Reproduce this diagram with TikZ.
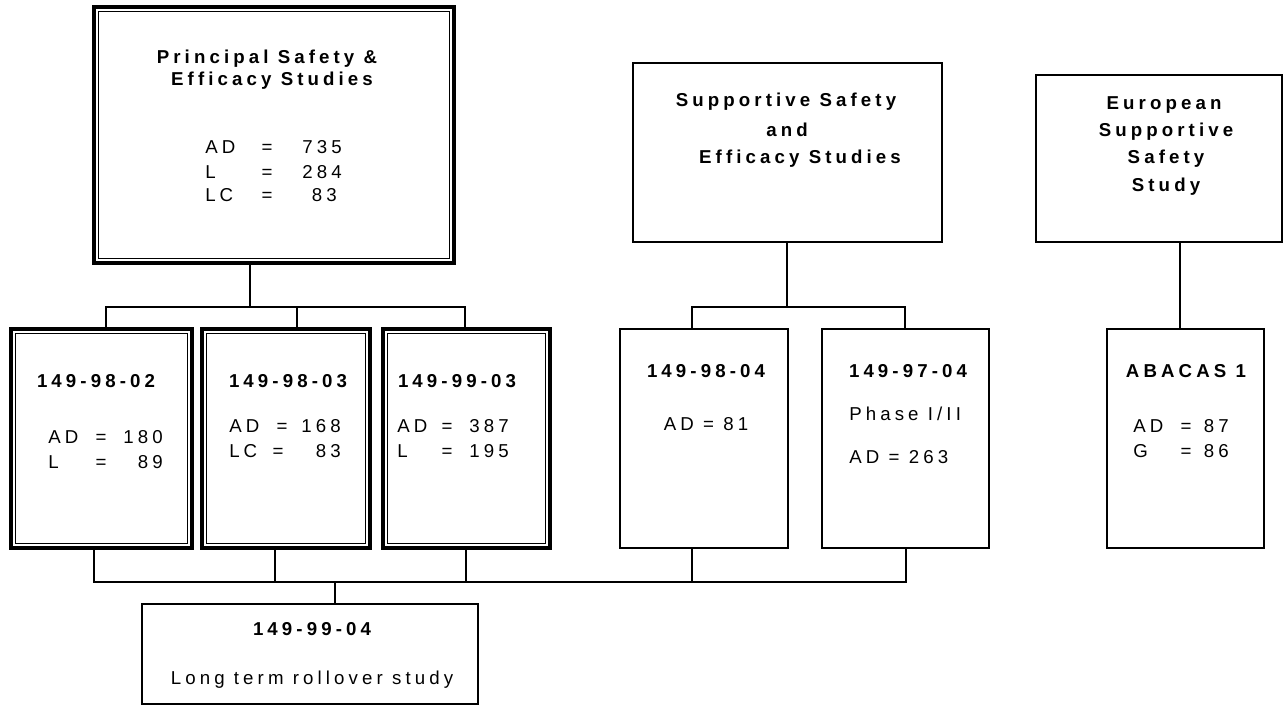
\documentclass[tikz,border=0pt]{standalone}
\usepackage{fontspec}
\newfontfamily\lsp{Liberation Sans}[LetterSpace=22]
\usetikzlibrary{fit}
\begin{document}
\begin{tikzpicture}[x=0.75pt,y=-0.75pt,
 thickbox/.style={draw, line width=2.8pt, inner sep=0pt, outer sep=0pt},
 thinbox/.style={draw, line width=1.2pt, inner sep=0pt, outer sep=0pt},
 innerline/.style={line width=0.8pt},
 conn/.style={line width=1.2pt},
 tb/.style={font=\lsp\bfseries\fontsize{14}{16}\selectfont, inner sep=0pt, anchor=base},
 tr/.style={font=\lsp\fontsize{14}{16}\selectfont, inner sep=0pt, anchor=base},
 trl/.style={tr, anchor=base west},
 trr/.style={tr, anchor=base east},
]
\useasboundingbox (0,0) rectangle (1284,706);
\fill[white] (0,0) rectangle (1284,706);

% boxes
\node[thickbox, fit={(94,7) (454,263)}] (P) {};
\node[thickbox, fit={(11,329) (192,548)}] (B1) {};
\node[thickbox, fit={(202,329) (370,548)}] (B2) {};
\node[thickbox, fit={(383,329) (550,548)}] (B3) {};
\foreach \n in {P,B1,B2,B3}
  \draw[innerline] ([shift={(4.5,4.5)}]\n.north west) rectangle ([shift={(-4.5,-4.5)}]\n.south east);
\node[thinbox, fit={(142,604) (478,704)}] (R) {};
\node[thinbox, fit={(633,63) (942,242)}] (S) {};
\node[thinbox, fit={(1036,75) (1282,242)}] (E) {};
\node[thinbox, fit={(620,329) (788,548)}] (C1) {};
\node[thinbox, fit={(822,329) (989,548)}] (C2) {};
\node[thinbox, fit={(1107,329) (1264,548)}] (A) {};

% junction coordinates
\coordinate (pj) at (250,307);
\coordinate (bL) at (106,307);
\coordinate (bM) at (297,307);
\coordinate (bR) at (465,307);
\coordinate (sj) at (787,307);
\coordinate (sL) at (692,307);
\coordinate (sR) at (905,307);
\coordinate (ea) at (1180,300);
\coordinate (dL) at (94,582);
\coordinate (d2) at (275,582);
\coordinate (d3) at (466,582);
\coordinate (dr) at (335,582);
\coordinate (d4) at (692,582);
\coordinate (dR) at (906,582);

% connectors
\draw[conn] (P.south -| pj) -- (pj);
\draw[conn] (B1.north -| bL) -- (bL) -- (bR) -- (B3.north -| bR);
\draw[conn] (bM) -- (B2.north -| bM);
\draw[conn] (S.south -| sj) -- (sj);
\draw[conn] (C1.north -| sL) -- (sL) -- (sR) -- (C2.north -| sR);
\draw[conn] (E.south -| ea) -- (A.north -| ea);
\draw[conn] (B1.south -| dL) -- (dL) -- (dR) -- (C2.south -| dR);
\draw[conn] (B2.south -| d2) -- (d2);
\draw[conn] (B3.south -| d3) -- (d3);
\draw[conn] (C1.south -| d4) -- (d4);
\draw[conn] (dr) -- (R.north -| dr);

% Principal texts
\node[tb] (pt1) at (267,64) {Principal Safety \&};
\node[tb] (pt2) at (272,86) {Efficacy Studies};
\node[trl] (p1a) at (205,154) {AD}; \node[tr] (p1b) at (267,154) {=}; \node[trr] (p1c) at (342,154) {735};
\node[trl] (p2a) at (205,178) {L};  \node[tr] (p2b) at (267,178) {=}; \node[trr] (p2c) at (342,178) {284};
\node[trl] (p3a) at (205,201) {LC}; \node[tr] (p3b) at (267,201) {=}; \node[trr] (p3c) at (337,201) {83};

% B1
\node[tb] (b1t) at (96,387) {149-98-02};
\node[trl] (b1a) at (48,443) {AD}; \node[tr] (b1b) at (101,443) {=}; \node[trr] (b1c) at (163,443) {180};
\node[trl] (b1d) at (48,468) {L};  \node[tr] (b1e) at (101,468) {=}; \node[trr] (b1f) at (163,468) {89};
% B2
\node[tb] (b2t) at (288,387) {149-98-03};
\node[trl] (b2a) at (229,432) {AD}; \node[tr] (b2b) at (282,432) {=}; \node[trr] (b2c) at (341,432) {168};
\node[trl] (b2d) at (229,457) {LC}; \node[tr] (b2e) at (278,457) {=}; \node[trr] (b2f) at (341,457) {83};
% B3
\node[tb] (b3t) at (457,387) {149-99-03};
\node[trl] (b3a) at (397,432) {AD}; \node[tr] (b3b) at (447,432) {=}; \node[trr] (b3c) at (509,432) {387};
\node[trl] (b3d) at (397,457) {L};  \node[tr] (b3e) at (447,457) {=}; \node[trr] (b3f) at (509,457) {195};

% C1, C2
\node[tb] (c1t) at (706,377) {149-98-04};
\node[tr] (c1a) at (706,430) {AD = 81};
\node[tb] (c2t) at (908,377) {149-97-04};
\node[trl] (c2a) at (849,420) {Phase I/II};
\node[trl] (c2b) at (849,463) {AD = 263};

% ABACAS
\node[tb] (at) at (1186,377) {ABACAS 1};
\node[trl] (aa) at (1133,432) {AD}; \node[tr] (ab) at (1186,432) {=}; \node[trr] (ac) at (1229,432) {87};
\node[trl] (ad) at (1133,457) {G};  \node[tr] (ae) at (1186,457) {=}; \node[trr] (af) at (1229,457) {86};

% Rollover
\node[tb] (rt) at (312,635) {149-99-04};
\node[tr] (rl) at (312,684) {Long term rollover study};

% Supportive
\node[tb] (s1) at (786,107) {Supportive Safety};
\node[tb] (s2) at (787,137) {and};
\node[tb] (s3) at (800,163) {Efficacy Studies};

% European
\node[tb] (e1) at (1164,110) {European};
\node[tb] (e2) at (1166,137) {Supportive};
\node[tb] (e3) at (1166,164) {Safety};
\node[tb] (e4) at (1166,191) {Study};
\end{tikzpicture}
\end{document}
